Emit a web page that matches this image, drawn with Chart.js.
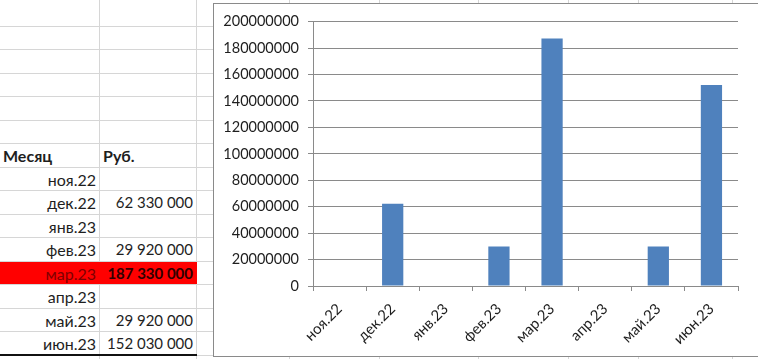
<!DOCTYPE html>
<html>
<head>
<meta charset="utf-8">
<script src="https://cdn.jsdelivr.net/npm/chart.js@4"></script>
<style>
  body { margin: 0; width: 758px; height: 359px; overflow: hidden; background: #fff; font-family: Lato, sans-serif; }
  #sheet { position: absolute; left: 0; top: 0; width: 758px; height: 359px; }
  .hline { position: absolute; left: 0; height: 1px; background: #d6d6d6; }
  .vline { position: absolute; width: 1px; background: #d6d6d6; }
  .cell { position: absolute; height: 23px; line-height: 25px; font-size: 15px; color: #1e1e1e; white-space: nowrap; }
  .month { font-size: 16px; }
  #chart_box { position: absolute; left: 213px; top: 3px; width: 560px; height: 352px; border: 1px solid #8a8a8a; background: #fff; }
  #chart_wrap { position: absolute; left: 0; top: 0; width: 546px; height: 352px; }
</style>
</head>
<body>
<div id="sheet"></div>
<div id="chart_box"><div id="chart_wrap"><canvas id="rub_chart"></canvas></div></div>
<script>
// data
let months = ["ноя.22", "дек.22", "янв.23", "фев.23", "мар.23", "апр.23", "май.23", "июн.23"];
let rubValues = [null, 62330000, null, 29920000, 187330000, null, 29920000, 152030000];
let tableHeaders = ["Месяц", "Руб."];
let highlightMonth = "мар.23";
let yTicks = [0, 20000000, 40000000, 60000000, 80000000, 100000000, 120000000, 140000000, 160000000, 180000000, 200000000];

function rowY(k) {
    return Math.round(2 + 23.5 * k);
}

function formatRub(v) {
    if (v == null) return "";
    return String(v).replace(/\B(?=(\d{3})+(?!\d))/g, " ");
}

function drawSheet() {
    let sheet = document.getElementById("sheet");
    // row lines
    for (let k = 1; k <= 15; k++) {
        let l = document.createElement("div");
        l.className = "hline";
        l.style.top = rowY(k) + "px";
        l.style.width = "213px";
        sheet.appendChild(l);
    }
    // column lines (some only peek out above / below the chart)
    [99, 196, 289, 379, 478, 568, 638, 732].forEach(x => {
        let l = document.createElement("div");
        l.className = "vline";
        l.style.left = x + "px";
        l.style.top = "0px";
        l.style.height = "359px";
        sheet.appendChild(l);
    });

    // header
    let h1 = document.createElement("div");
    h1.className = "cell month";
    h1.style.left = "3px"; h1.style.top = rowY(6) + "px";
    h1.style.fontWeight = "bold";
    h1.textContent = tableHeaders[0];
    sheet.appendChild(h1);
    let h2 = document.createElement("div");
    h2.className = "cell month";
    h2.style.left = "103px"; h2.style.top = rowY(6) + "px";
    h2.style.fontWeight = "bold";
    h2.textContent = tableHeaders[1];
    sheet.appendChild(h2);

    for (let i = 0; i < months.length; i++) {
        let top = rowY(7 + i);
        let hot = months[i] == highlightMonth;
        if (hot) {
            let fill = document.createElement("div");
            fill.style.position = "absolute";
            fill.style.left = "0px"; fill.style.top = (top + 1) + "px";
            fill.style.width = "197px"; fill.style.height = (rowY(8 + i) - top - 1) + "px";
            fill.style.background = "#ff0000";
            sheet.appendChild(fill);
        }
        let m = document.createElement("div");
        m.className = "cell month";
        m.style.left = "0px"; m.style.width = "96px"; m.style.textAlign = "right";
        m.style.top = top + "px";
        m.textContent = months[i];
        if (hot) m.style.color = "#7e0000";
        sheet.appendChild(m);

        let v = document.createElement("div");
        v.className = "cell";
        v.style.left = "99px"; v.style.width = "94px"; v.style.textAlign = "right";
        v.style.top = top + "px";
        v.textContent = formatRub(rubValues[i]);
        if (hot) { v.style.fontWeight = "bold"; v.style.color = "#300000"; }
        sheet.appendChild(v);
    }
    // thick bottom border under the table
    let b = document.createElement("div");
    b.style.position = "absolute";
    b.style.left = "0px"; b.style.top = (rowY(15) - 1) + "px";
    b.style.width = "197px"; b.style.height = "2px";
    b.style.background = "#111";
    sheet.appendChild(b);
}

function drawChart() {
    let gridGray = "#8a8a8a";
    new Chart("rub_chart", {
        type: "bar",
        data: {
            labels: months,
            datasets: [{
                label: "Руб.",
                data: rubValues,
                backgroundColor: "#4f81bd",
                borderWidth: 0,
                barPercentage: 0.4,
                categoryPercentage: 1.0
            }]
        },
        options: {
            responsive: true,
            maintainAspectRatio: false,
            animation: false,
            layout: { padding: { top: 10, right: 22, left: 0, bottom: 0 } },
            plugins: {
                legend: { display: false },
                tooltip: { enabled: false }
            },
            scales: {
                x: {
                    grid: { drawOnChartArea: false, drawTicks: true, tickLength: 5, color: gridGray, offset: true },
                    border: { color: gridGray },
                    ticks: {
                        color: "#1e1e1e",
                        font: { family: "Lato", size: 15 },
                        minRotation: 45,
                        maxRotation: 45,
                        padding: 9
                    },
                    afterFit: function (scale) { scale.height = 70; }
                },
                y: {
                    min: 0,
                    max: 200000000,
                    afterBuildTicks: function (scale) {
                        scale.ticks = yTicks.map(v => ({ value: v }));
                    },
                    grid: { color: gridGray, tickLength: 5 },
                    border: { color: gridGray },
                    ticks: {
                        color: "#1e1e1e",
                        font: { family: "Lato", size: 14.5 },
                        padding: 9,
                        callback: function (value) { return String(value); }
                    },
                    afterFit: function (scale) { scale.width = 99; }
                }
            }
        }
    });
}

drawSheet();
drawChart();
</script>
</body>
</html>
